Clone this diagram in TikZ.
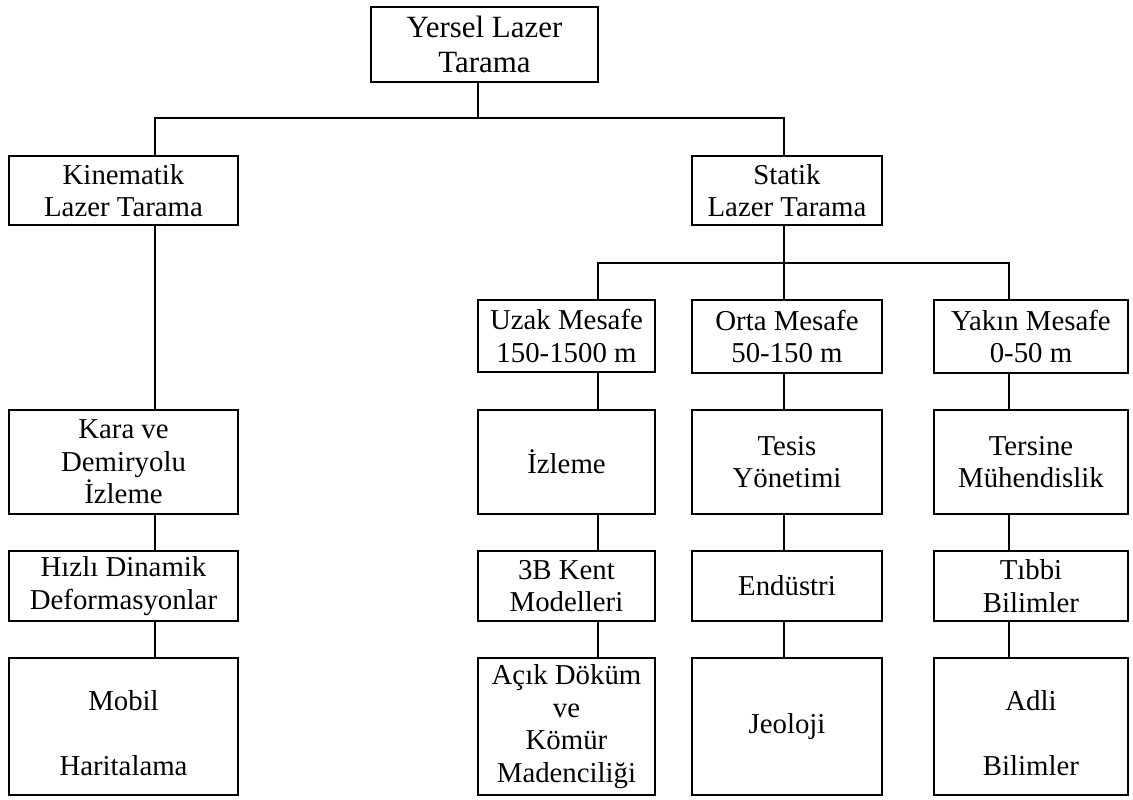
\documentclass[tikz,border=0pt]{standalone}
\usepackage{fontspec}
\setmainfont{Liberation Serif}
\usetikzlibrary{positioning}
\tikzset{
  every picture/.style={line width=1.1pt},
  kutu/.style={draw, align=center, inner sep=2pt, font=\fontsize{16.4}{18.6}\selectfont},
  bag/.style={draw, line width=1.1pt},
}
\begin{document}
\begin{tikzpicture}[x=0.02cm, y=-0.02cm,
  c/.style={kutu, minimum width=#1},
  r1/.style={minimum height=2.08cm},
  r2/.style={minimum height=1.4cm},
  r3/.style={minimum height=2.74cm}]
  \useasboundingbox (0,0) rectangle (1133,799);
  % top levels
  \node[c=4.54cm, minimum height=1.5cm, font=\fontsize{17.6}{20}\selectfont] (root) at (484.5,44.5) {Yersel Lazer\\Tarama};
  \node[c=4.58cm, minimum height=1.38cm] (kin) at (123.5,190.5) {Kinematik\\Lazer Tarama};
  \node[c=3.8cm, minimum height=1.38cm] (stat) at (787,190.5) {Statik\\Lazer Tarama};
  % ranges
  \node[c=3.54cm, minimum height=1.44cm] (uzak) at (566.5,336) {Uzak Mesafe\\150-1500 m};
  \node[c=3.8cm, minimum height=1.46cm] (orta) at (787,336.5) {Orta Mesafe\\50-150 m};
  \node[c=3.88cm, minimum height=1.46cm] (yakin) at (1031,336.5) {Yakın Mesafe\\0-50 m};
  % kinematik column
  \node[c=4.58cm, r1] (kara) at (123.5,462) {Kara ve\\Demiryolu\\İzleme};
  \node[c=4.58cm, r2] (hizli) at (123.5,586) {Hızlı Dinamik\\Deformasyonlar};
  \node[c=4.58cm, r3] (mobil) at (123.5,726.5) {~\\Mobil\\~\\Haritalama};
  % uzak column
  \node[c=3.54cm, r1] (izleme) at (566.5,462) {İzleme};
  \node[c=3.54cm, r2] (kent) at (566.5,586) {3B Kent\\Modelleri};
  \node[c=3.54cm, r3] (acik) at (566.5,726.5) {Açık Döküm\\ve\\Kömür\\Madenciliği};
  % orta column
  \node[c=3.8cm, r1] (tesis) at (787,462) {Tesis\\Yönetimi};
  \node[c=3.8cm, r2] (endustri) at (787,586) {Endüstri};
  \node[c=3.8cm, r3] (jeoloji) at (787,726.5) {Jeoloji};
  % yakin column
  \node[c=3.88cm, r1] (tersine) at (1031,462) {Tersine\\Mühendislik};
  \node[c=3.88cm, r2] (tibbi) at (1031,586) {Tıbbi\\Bilimler};
  \node[c=3.88cm, r3] (adli) at (1031,726.5) {~\\Adli\\~\\Bilimler};
  % bus points
  \coordinate (tr) at (478,118);
  \coordinate (tk) at (155,118);
  \coordinate (ts) at (784,118);
  \coordinate (mu) at (598,263);
  \coordinate (mo) at (784,263);
  \coordinate (my) at (1009,263);
  % connectors
  \draw[bag] (root.south -| tr) -- (tr);
  \draw[bag] (kin.north -| tk) -- (tk) -- (ts) -- (stat.north -| ts);
  \draw[bag] (stat.south -| mo) -- (mo) -- (orta.north -| mo);
  \draw[bag] (uzak.north -| mu) -- (mu) -- (my) -- (yakin.north -| my);
  \draw[bag] (kin.south -| tk) -- (kara.north -| tk);
  \draw[bag] (kara.south -| tk) -- (hizli.north -| tk);
  \draw[bag] (hizli.south -| tk) -- (mobil.north -| tk);
  \draw[bag] (uzak.south -| mu) -- (izleme.north -| mu);
  \draw[bag] (izleme.south -| mu) -- (kent.north -| mu);
  \draw[bag] (kent.south -| mu) -- (acik.north -| mu);
  \draw[bag] (orta.south -| mo) -- (tesis.north -| mo);
  \draw[bag] (tesis.south -| mo) -- (endustri.north -| mo);
  \draw[bag] (endustri.south -| mo) -- (jeoloji.north -| mo);
  \draw[bag] (yakin.south -| my) -- (tersine.north -| my);
  \draw[bag] (tersine.south -| my) -- (tibbi.north -| my);
  \draw[bag] (tibbi.south -| my) -- (adli.north -| my);
\end{tikzpicture}
\end{document}
